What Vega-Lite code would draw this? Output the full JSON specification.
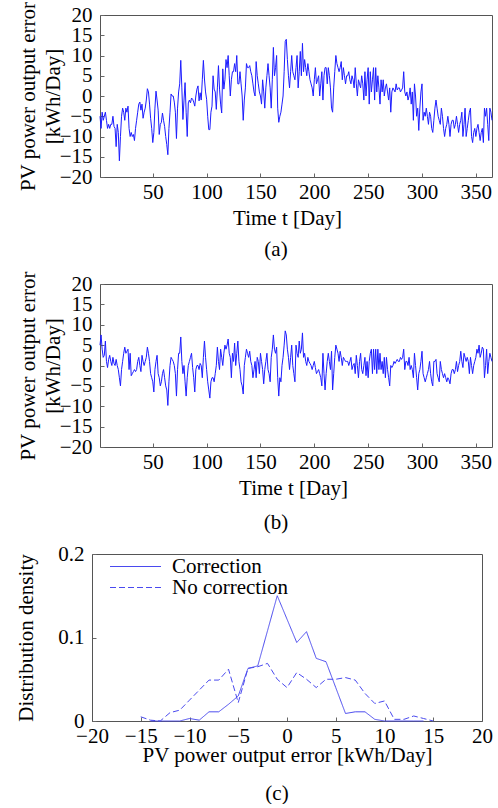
{
"$schema": "https://vega.github.io/schema/vega-lite/v6.json",
"padding": {"left": 15, "top": 0, "right": 6, "bottom": 0},
"background": "white",
"spacing": 9,
"columns": 1,
"resolve": {"legend": {"strokeDash": "independent"}},
"config": {
 "font": "Liberation Serif, Times New Roman, serif",
 "view": {"stroke": "#555555", "strokeWidth": 1},
 "axis": {"labelFont": "Liberation Serif, Times New Roman, serif", "titleFont": "Liberation Serif, Times New Roman, serif", "labelFontSize": 21, "titleFontSize": 21, "titleFontWeight": "normal", "labelColor": "#000000", "titleColor": "#000000", "domain": false, "grid": false, "tickSize": -4, "tickColor": "#666666", "labelPadding": 12, "labelOverlap": false, "labelFlush": false, "titleLineHeight": 25},
 "axisX": {"labelPadding": 8},
 "title": {"font": "Liberation Serif, Times New Roman, serif", "fontSize": 21, "fontWeight": "normal", "color": "#000000"},
 "legend": {"labelFont": "Liberation Serif, Times New Roman, serif", "labelFontSize": 21, "labelColor": "#000000"}
},
"datasets": {
"ts": [
{"d":1,"a":-5,"b":5},{"d":2,"a":-8,"b":7.5},{"d":3,"a":-4,"b":4},{"d":4,"a":-6,"b":2},{"d":5,"a":-5,"b":2.5},{"d":6,"a":-4,"b":6},{"d":7,"a":-6,"b":1},{"d":8,"a":-8,"b":-0.5},{"d":9,"a":-7,"b":1.5},{"d":10,"a":-8,"b":2.5},
{"d":11,"a":-7,"b":1},{"d":12,"a":-7,"b":0},{"d":13,"a":-5,"b":2},{"d":14,"a":-7.5,"b":0.5},{"d":15,"a":-8,"b":0},{"d":16,"a":-12.5,"b":1.5},{"d":17,"a":-7,"b":0},{"d":18,"a":-9,"b":-1},{"d":19,"a":-16,"b":-3},{"d":20,"a":-10,"b":-5},
{"d":21,"a":-5,"b":-1},{"d":22,"a":-3,"b":1},{"d":23,"a":-4,"b":3},{"d":24,"a":-6,"b":4.5},{"d":25,"a":-3,"b":3},{"d":26,"a":-4,"b":3.5},{"d":27,"a":-2.5,"b":4},{"d":28,"a":-8,"b":-1},{"d":29,"a":-10,"b":3},{"d":30,"a":-9,"b":-2.5},
{"d":31,"a":-10,"b":-2},{"d":32,"a":-9.5,"b":-1.5},{"d":33,"a":-11,"b":-1},{"d":34,"a":-8,"b":-1.5},{"d":35,"a":-6,"b":-1},{"d":36,"a":-4,"b":1},{"d":37,"a":-2,"b":2},{"d":38,"a":-1.5,"b":0},{"d":39,"a":-3.5,"b":-1.5},{"d":40,"a":-2,"b":2.5},
{"d":41,"a":-5.5,"b":1},{"d":42,"a":-4,"b":0},{"d":43,"a":-3,"b":1},{"d":44,"a":-1,"b":2},{"d":45,"a":1.8,"b":4.5},{"d":46,"a":1,"b":3},{"d":47,"a":-2,"b":1},{"d":48,"a":-5.5,"b":-2},{"d":49,"a":-8,"b":-3},{"d":50,"a":-11.5,"b":-4},
{"d":51,"a":-9,"b":-6.5},{"d":52,"a":-3,"b":-1},{"d":53,"a":1.2,"b":1},{"d":54,"a":-1,"b":2.5},{"d":55,"a":-3.5,"b":-2},{"d":56,"a":-9.5,"b":-3},{"d":57,"a":-7,"b":-5},{"d":58,"a":-6.5,"b":-4},{"d":59,"a":-4.2,"b":-2},{"d":60,"a":-6,"b":-1},
{"d":61,"a":-7.5,"b":-3},{"d":62,"a":-10,"b":-5},{"d":63,"a":-12,"b":-6},{"d":64,"a":-14.5,"b":-9.8},{"d":65,"a":-8,"b":-4},{"d":66,"a":-4,"b":0},{"d":67,"a":0.5,"b":2},{"d":68,"a":0,"b":1.5},{"d":69,"a":0,"b":1},{"d":70,"a":-1.5,"b":0},
{"d":71,"a":-4,"b":-2},{"d":72,"a":-10.5,"b":-7.5},{"d":73,"a":-3,"b":-1},{"d":74,"a":1,"b":3},{"d":75,"a":3,"b":3},{"d":76,"a":8.8,"b":7},{"d":77,"a":2,"b":1},{"d":78,"a":-5.8,"b":-2},{"d":79,"a":-1,"b":0},{"d":80,"a":3.3,"b":-4},
{"d":81,"a":-4,"b":-7.5},{"d":82,"a":-10,"b":-3},{"d":83,"a":-1.7,"b":0},{"d":84,"a":-1,"b":1},{"d":85,"a":-1.7,"b":2},{"d":86,"a":-0.5,"b":3},{"d":87,"a":-0.8,"b":-0.5},{"d":88,"a":-1.5,"b":-3},{"d":89,"a":-2.5,"b":-6.5},{"d":90,"a":0,"b":-1},
{"d":91,"a":1.7,"b":0},{"d":92,"a":2.5,"b":0},{"d":93,"a":-1.2,"b":-1},{"d":94,"a":0.8,"b":0.5},{"d":95,"a":-1,"b":0},{"d":96,"a":4,"b":-3},{"d":97,"a":8.8,"b":2},{"d":98,"a":4.2,"b":6},{"d":99,"a":1,"b":2},{"d":100,"a":-0.8,"b":-1},
{"d":101,"a":-5,"b":-4},{"d":102,"a":-8.3,"b":-6},{"d":103,"a":-8.3,"b":-8},{"d":104,"a":-4,"b":-4},{"d":105,"a":-2.5,"b":-3},{"d":106,"a":5,"b":-3},{"d":107,"a":1.7,"b":-4},{"d":108,"a":1,"b":-2},{"d":109,"a":-3.3,"b":0},{"d":110,"a":2,"b":4.5},
{"d":111,"a":7.5,"b":1},{"d":112,"a":1.7,"b":-1},{"d":113,"a":-2,"b":4},{"d":114,"a":-4.2,"b":2},{"d":115,"a":6.7,"b":0},{"d":116,"a":1.7,"b":3},{"d":117,"a":4,"b":5},{"d":118,"a":9,"b":4},{"d":119,"a":7,"b":5},{"d":120,"a":10,"b":6.5},
{"d":121,"a":5,"b":3},{"d":122,"a":0,"b":2},{"d":123,"a":4,"b":-3},{"d":124,"a":6,"b":3},{"d":125,"a":6,"b":1},{"d":126,"a":8,"b":5.5},{"d":127,"a":6,"b":0},{"d":128,"a":10,"b":3},{"d":129,"a":3,"b":6},{"d":130,"a":3,"b":1},
{"d":131,"a":6,"b":-1},{"d":132,"a":3,"b":-4},{"d":133,"a":0,"b":-5},{"d":134,"a":-6,"b":-7},{"d":135,"a":-1,"b":0},{"d":136,"a":2,"b":2},{"d":137,"a":8,"b":4},{"d":138,"a":7,"b":3},{"d":139,"a":7,"b":2},{"d":140,"a":7.5,"b":3.5},
{"d":141,"a":6,"b":1},{"d":142,"a":5,"b":0},{"d":143,"a":3,"b":-3},{"d":144,"a":1,"b":-1},{"d":145,"a":0,"b":1},{"d":146,"a":8.5,"b":-3},{"d":147,"a":5,"b":2},{"d":148,"a":3,"b":1},{"d":149,"a":1,"b":-2},{"d":150,"a":0,"b":3},
{"d":151,"a":-2,"b":1},{"d":152,"a":4,"b":-1},{"d":153,"a":1,"b":-4.5},{"d":154,"a":-3,"b":-1},{"d":155,"a":2,"b":1},{"d":156,"a":5,"b":3},{"d":157,"a":8,"b":-1},{"d":158,"a":5,"b":-2},{"d":159,"a":2,"b":-4},{"d":160,"a":-3,"b":2},
{"d":161,"a":4,"b":4},{"d":162,"a":12,"b":7.5},{"d":163,"a":5,"b":4},{"d":164,"a":7,"b":3},{"d":165,"a":10,"b":4.5},{"d":166,"a":-3,"b":-3},{"d":167,"a":-6.5,"b":-7.5},{"d":168,"a":-5,"b":-3},{"d":169,"a":-4,"b":-4},{"d":170,"a":-2,"b":0},
{"d":171,"a":0,"b":2},{"d":172,"a":6,"b":5},{"d":173,"a":13.5,"b":8.5},{"d":174,"a":14,"b":7.5},{"d":175,"a":9,"b":4},{"d":176,"a":5,"b":2},{"d":177,"a":2,"b":-1},{"d":178,"a":6,"b":2},{"d":179,"a":10,"b":5},{"d":180,"a":6,"b":0},
{"d":181,"a":5,"b":-2},{"d":182,"a":4,"b":-4},{"d":183,"a":7,"b":5},{"d":184,"a":10,"b":3},{"d":185,"a":2,"b":2},{"d":186,"a":6,"b":6},{"d":187,"a":11,"b":3},{"d":188,"a":5,"b":4},{"d":189,"a":13,"b":8},{"d":190,"a":6,"b":2},
{"d":191,"a":9,"b":3},{"d":192,"a":7,"b":1},{"d":193,"a":5,"b":0},{"d":194,"a":8,"b":2},{"d":195,"a":6,"b":1},{"d":196,"a":4,"b":0.5},{"d":197,"a":3,"b":0},{"d":198,"a":2,"b":-1},{"d":199,"a":0,"b":0},{"d":200,"a":4,"b":1},
{"d":201,"a":7,"b":-0.5},{"d":202,"a":3,"b":-2},{"d":203,"a":4,"b":-1.5},{"d":204,"a":5,"b":-1},{"d":205,"a":0,"b":-2},{"d":206,"a":3,"b":-3},{"d":207,"a":6,"b":-5},{"d":208,"a":-1,"b":3},{"d":209,"a":5,"b":-2},{"d":210,"a":7,"b":-6},
{"d":211,"a":7,"b":-2},{"d":212,"a":3,"b":1},{"d":213,"a":7,"b":3},{"d":214,"a":5,"b":1},{"d":215,"a":2,"b":-1},{"d":216,"a":-3,"b":3.5},{"d":217,"a":-4,"b":-6},{"d":218,"a":2,"b":-2},{"d":219,"a":6,"b":2},{"d":220,"a":10,"b":5},
{"d":221,"a":8,"b":4},{"d":222,"a":7,"b":3},{"d":223,"a":6,"b":1},{"d":224,"a":7,"b":3.5},{"d":225,"a":8.5,"b":2},{"d":226,"a":4,"b":0},{"d":227,"a":7,"b":2},{"d":228,"a":5,"b":1.5},{"d":229,"a":3,"b":1},{"d":230,"a":5,"b":1},
{"d":231,"a":5,"b":1},{"d":232,"a":6,"b":0},{"d":233,"a":4,"b":1},{"d":234,"a":3,"b":2},{"d":235,"a":5,"b":-1},{"d":236,"a":4,"b":0},{"d":237,"a":2,"b":0.5},{"d":238,"a":7,"b":-2},{"d":239,"a":3,"b":2.5},{"d":240,"a":0,"b":0},
{"d":241,"a":4,"b":-3},{"d":242,"a":3,"b":1},{"d":243,"a":2,"b":3},{"d":244,"a":5,"b":-1},{"d":245,"a":3,"b":-2},{"d":246,"a":-1,"b":0},{"d":247,"a":6,"b":2},{"d":248,"a":0,"b":-2.5},{"d":249,"a":4,"b":1},{"d":250,"a":7,"b":-3},
{"d":251,"a":-2,"b":1},{"d":252,"a":6,"b":3},{"d":253,"a":1,"b":4},{"d":254,"a":4,"b":-2},{"d":255,"a":7,"b":4},{"d":256,"a":-1,"b":-1},{"d":257,"a":7,"b":4},{"d":258,"a":1,"b":-2},{"d":259,"a":5,"b":4},{"d":260,"a":2,"b":-1},
{"d":261,"a":-2,"b":3},{"d":262,"a":4,"b":-1},{"d":263,"a":1,"b":1},{"d":264,"a":4,"b":-2},{"d":265,"a":0,"b":2},{"d":266,"a":2,"b":-3},{"d":267,"a":3,"b":2},{"d":268,"a":1,"b":-1},{"d":269,"a":-1,"b":-3},{"d":270,"a":2,"b":-5},
{"d":271,"a":-4,"b":0},{"d":272,"a":1,"b":-0.5},{"d":273,"a":2,"b":0},{"d":274,"a":1.5,"b":1},{"d":275,"a":1,"b":0.5},{"d":276,"a":3,"b":1},{"d":277,"a":1.5,"b":1.5},{"d":278,"a":2,"b":1},{"d":279,"a":2,"b":1},{"d":280,"a":1,"b":2},
{"d":281,"a":1.5,"b":1.5},{"d":282,"a":2,"b":2},{"d":283,"a":6,"b":4},{"d":284,"a":1,"b":-1},{"d":285,"a":0,"b":1},{"d":286,"a":1,"b":1},{"d":287,"a":-1,"b":0},{"d":288,"a":0,"b":2},{"d":289,"a":2,"b":-1},{"d":290,"a":-2,"b":0},
{"d":291,"a":1,"b":-1},{"d":292,"a":-6,"b":-3},{"d":293,"a":3,"b":3},{"d":294,"a":0,"b":0},{"d":295,"a":-5,"b":-3},{"d":296,"a":-3,"b":-6},{"d":297,"a":-8.5,"b":-2},{"d":298,"a":-3,"b":-1},{"d":299,"a":1,"b":1},{"d":300,"a":3,"b":3.5},
{"d":301,"a":-6,"b":-2},{"d":302,"a":-4,"b":-3},{"d":303,"a":-5,"b":-4},{"d":304,"a":-3,"b":-3},{"d":305,"a":-5,"b":-2},{"d":306,"a":-7,"b":-1},{"d":307,"a":-4,"b":1},{"d":308,"a":-5,"b":-2},{"d":309,"a":-8,"b":-4},{"d":310,"a":-9,"b":-5},
{"d":311,"a":-6,"b":1},{"d":312,"a":-3,"b":1},{"d":313,"a":-1,"b":1.5},{"d":314,"a":-3,"b":-2},{"d":315,"a":-5,"b":-3},{"d":316,"a":-6,"b":-4},{"d":317,"a":-7,"b":1},{"d":318,"a":-3,"b":-1},{"d":319,"a":-5,"b":-2},{"d":320,"a":-8,"b":-3},
{"d":321,"a":-10,"b":-2},{"d":322,"a":-8,"b":-3},{"d":323,"a":-7,"b":-4},{"d":324,"a":-5,"b":-3},{"d":325,"a":-7,"b":-3.5},{"d":326,"a":-10,"b":-4.5},{"d":327,"a":-7,"b":-2},{"d":328,"a":-6,"b":-1},{"d":329,"a":-6,"b":-1},{"d":330,"a":-8,"b":-2},
{"d":331,"a":-7,"b":-1},{"d":332,"a":-5,"b":1},{"d":333,"a":-7,"b":-1.5},{"d":334,"a":-9,"b":0},{"d":335,"a":-7,"b":1},{"d":336,"a":-6,"b":3.5},{"d":337,"a":-4,"b":1},{"d":338,"a":-10,"b":-0.5},{"d":339,"a":-7,"b":3},{"d":340,"a":-3,"b":2},
{"d":341,"a":-10,"b":1},{"d":342,"a":-8,"b":2},{"d":343,"a":-6,"b":1},{"d":344,"a":-4,"b":-2},{"d":345,"a":-3,"b":2},{"d":346,"a":-10,"b":0},{"d":347,"a":-11.5,"b":-2},{"d":348,"a":-9,"b":0},{"d":349,"a":-8,"b":1},{"d":350,"a":-10,"b":2},
{"d":351,"a":-8,"b":4},{"d":352,"a":-7,"b":3},{"d":353,"a":-9,"b":5},{"d":354,"a":-11,"b":2},{"d":355,"a":-9,"b":3},{"d":356,"a":-8,"b":4.5},{"d":357,"a":-11.5,"b":4},{"d":358,"a":-3,"b":-3},{"d":359,"a":-5,"b":0},{"d":360,"a":-3,"b":4},
{"d":361,"a":-7,"b":-2},{"d":362,"a":-11,"b":1},{"d":363,"a":-3,"b":3},{"d":364,"a":-4,"b":2},{"d":365,"a":-6,"b":1}
],
"dens": [
{"x":-14,"y":0,"s":"Correction"},{"x":-13,"y":0,"s":"Correction"},{"x":-12,"y":0,"s":"Correction"},{"x":-11,"y":0,"s":"Correction"},{"x":-10,"y":0.003,"s":"Correction"},{"x":-9,"y":0.001,"s":"Correction"},{"x":-8,"y":0.011,"s":"Correction"},{"x":-7,"y":0.011,"s":"Correction"},{"x":-6,"y":0.02,"s":"Correction"},{"x":-5,"y":0.03,"s":"Correction"},{"x":-4,"y":0.063,"s":"Correction"},{"x":-3,"y":0.066,"s":"Correction"},{"x":-2,"y":0.108,"s":"Correction"},{"x":-1,"y":0.15,"s":"Correction"},{"x":0,"y":0.122,"s":"Correction"},{"x":1,"y":0.094,"s":"Correction"},{"x":2,"y":0.107,"s":"Correction"},{"x":3,"y":0.075,"s":"Correction"},{"x":4,"y":0.071,"s":"Correction"},{"x":5,"y":0.04,"s":"Correction"},{"x":6,"y":0.009,"s":"Correction"},{"x":7,"y":0.011,"s":"Correction"},{"x":8,"y":0.011,"s":"Correction"},{"x":9,"y":0.002,"s":"Correction"},{"x":10,"y":0,"s":"Correction"},{"x":11,"y":0,"s":"Correction"},{"x":12,"y":0,"s":"Correction"},{"x":13,"y":0,"s":"Correction"},{"x":14,"y":0,"s":"Correction"},
{"x":-15,"y":0.005,"s":"No correction"},{"x":-14,"y":0.001,"s":"No correction"},{"x":-13,"y":0,"s":"No correction"},{"x":-12,"y":0.01,"s":"No correction"},{"x":-11,"y":0.013,"s":"No correction"},{"x":-10,"y":0.025,"s":"No correction"},{"x":-9,"y":0.037,"s":"No correction"},{"x":-8,"y":0.049,"s":"No correction"},{"x":-7,"y":0.049,"s":"No correction"},{"x":-6,"y":0.062,"s":"No correction"},{"x":-5,"y":0.022,"s":"No correction"},{"x":-4,"y":0.063,"s":"No correction"},{"x":-3,"y":0.065,"s":"No correction"},{"x":-2,"y":0.069,"s":"No correction"},{"x":-1,"y":0.05,"s":"No correction"},{"x":0,"y":0.04,"s":"No correction"},{"x":1,"y":0.058,"s":"No correction"},{"x":2,"y":0.05,"s":"No correction"},{"x":3,"y":0.04,"s":"No correction"},{"x":4,"y":0.05,"s":"No correction"},{"x":5,"y":0.05,"s":"No correction"},{"x":6,"y":0.052,"s":"No correction"},{"x":7,"y":0.049,"s":"No correction"},{"x":8,"y":0.033,"s":"No correction"},{"x":9,"y":0.021,"s":"No correction"},{"x":10,"y":0.024,"s":"No correction"},{"x":11,"y":0.002,"s":"No correction"},{"x":12,"y":0.002,"s":"No correction"},{"x":13,"y":0.006,"s":"No correction"},{"x":14,"y":0.003,"s":"No correction"},{"x":15,"y":0,"s":"No correction"}
]
},
"concat": [
{
 "width": 392, "height": 162,
 "data": {"name": "ts"},
 "title": {"text": "(a)", "orient": "bottom", "offset": 11, "frame": "group", "dx": -20},
 "mark": {"type": "line", "color": "#1c1cff", "strokeWidth": 1},
 "encoding": {
  "x": {"field": "d", "type": "quantitative", "scale": {"domain": [1, 365], "nice": false, "zero": false}, "axis": {"values": [50,100,150,200,250,300,350], "title": "Time t [Day]", "titlePadding": 5, "titleX": 187}},
  "y": {"field": "a", "type": "quantitative", "scale": {"domain": [-20, 20], "nice": false}, "axis": {"values": [-20,-15,-10,-5,0,5,10,15,20], "title": ["PV power output error", "[kWh/Day]"], "titlePadding": -4}}
 }
},
{
 "width": 392, "height": 163,
 "data": {"name": "ts"},
 "title": {"text": "(b)", "orient": "bottom", "offset": 14, "frame": "group", "dx": -20},
 "mark": {"type": "line", "color": "#1c1cff", "strokeWidth": 1},
 "encoding": {
  "x": {"field": "d", "type": "quantitative", "scale": {"domain": [1, 365], "nice": false, "zero": false}, "axis": {"values": [50,100,150,200,250,300,350], "title": "Time t [Day]", "titlePadding": 5, "titleX": 193}},
  "y": {"field": "b", "type": "quantitative", "scale": {"domain": [-20, 20], "nice": false}, "axis": {"values": [-20,-15,-10,-5,0,5,10,15,20], "title": ["PV power output error", "[kWh/Day]"], "titlePadding": -4}}
 }
},
{
 "width": 382, "height": 167,
 "data": {"name": "dens"},
 "view": {"stroke": null},
 "title": {"text": "(c)", "orient": "bottom", "offset": 18, "frame": "group", "dx": -14},
 "layer": [
  {
   "mark": {"type": "line", "color": "#4a4aef", "strokeWidth": 1},
   "encoding": {
    "x": {"field": "x", "type": "quantitative", "scale": {"domain": [-20, 20], "nice": false, "range": [-8, 382]}, "axis": {"values": [-20,-15,-10,-5,0,5,10,15,20], "title": "PV power output error [kWh/Day]", "titlePadding": -2, "domain": true, "domainColor": "#555555", "domainWidth": 1}},
    "y": {"field": "y", "type": "quantitative", "scale": {"domain": [0, 0.2], "nice": false}, "axis": {"values": [0, 0.1, 0.2], "format": "~g", "title": "Distribution density", "titlePadding": 21, "offset": 8, "domain": true, "domainColor": "#555555", "domainWidth": 1}},
    "strokeDash": {"field": "s", "type": "nominal", "scale": {"domain": ["Correction", "No correction"], "range": [[1, 0], [6, 3]]}, "legend": {"title": null, "orient": "none", "legendX": 25, "legendY": 2, "symbolType": "M-10,0H10", "symbolSize": 26, "symbolStrokeWidth": 1, "symbolStrokeColor": "#4a4aef", "symbolFillColor": "transparent", "labelOffset": 26, "rowPadding": -1, "padding": 0}}
   }
  },
  {
   "mark": {"type": "line", "strokeOpacity": 0},
   "encoding": {
    "x": {"field": "x", "type": "quantitative", "axis": {"orient": "top", "labels": false, "ticks": false, "domain": true, "domainColor": "#555555", "domainWidth": 1, "title": null}},
    "y": {"field": "y", "type": "quantitative", "axis": {"orient": "right", "labels": false, "ticks": false, "domain": true, "domainColor": "#555555", "domainWidth": 1, "title": null}}
   }
  }
 ],
 "resolve": {"axis": {"x": "independent", "y": "independent"}}
}
]
}
